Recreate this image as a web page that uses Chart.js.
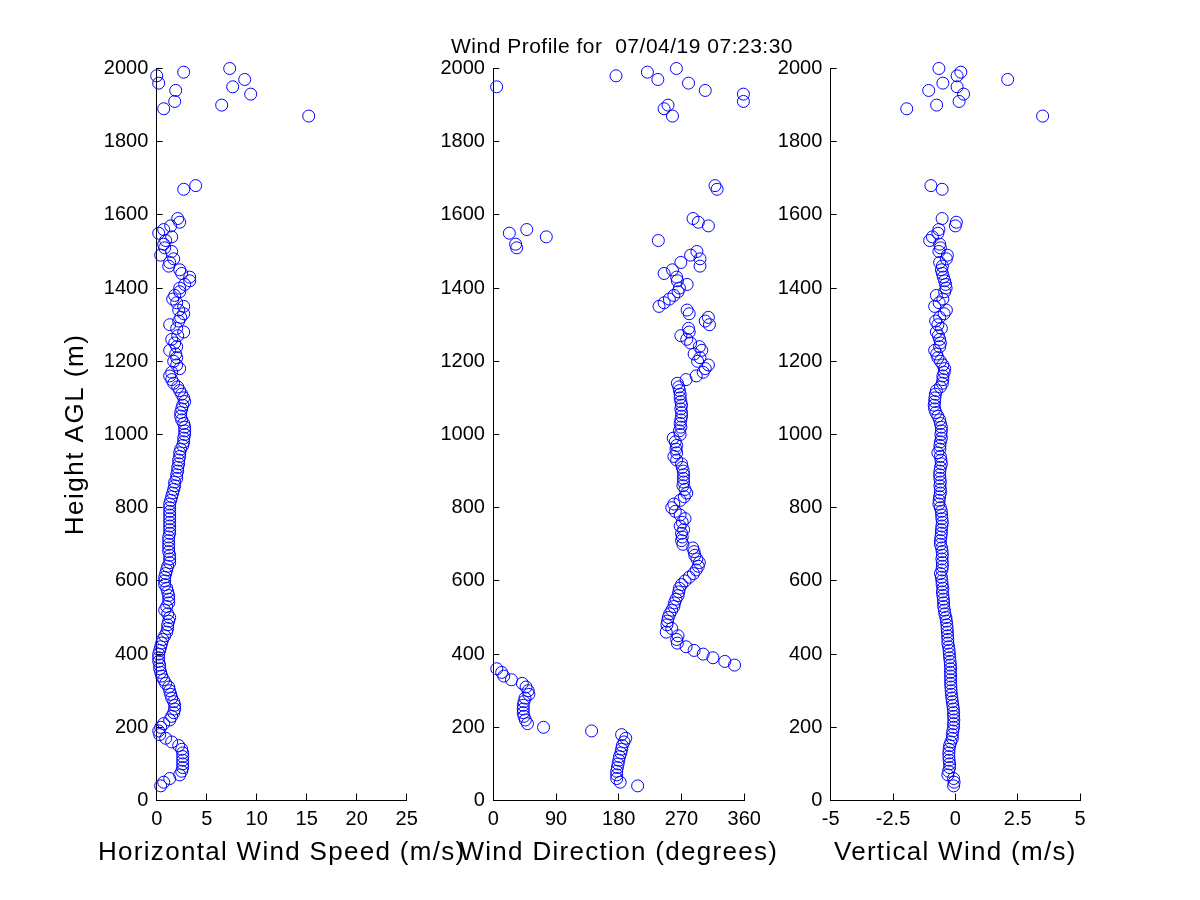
<!DOCTYPE html>
<html>
<head>
<meta charset="utf-8">
<title>Wind Profile</title>
<script src="https://cdn.jsdelivr.net/npm/chart.js@4.4.0/dist/chart.umd.min.js"></script>
<style>
  body { margin: 0; background: #fff; }
  #wrap { position: relative; width: 1200px; height: 900px; }
  #wrap canvas { position: absolute; left: 0; top: 0; }
</style>
</head>
<body>
<div id="wrap">
  <canvas id="speedChart" width="1200" height="900"></canvas>
  <canvas id="dirChart" width="1200" height="900"></canvas>
  <canvas id="vertChart" width="1200" height="900"></canvas>
</div>
<script>
// range gates (m AGL)
const heights = [
  2000, 1990, 1980, 1970, 1960, 1950, 1940, 1930, 1910, 1900, 1890, 1870,
  1680, 1670,
  1590, 1580, 1570, 1560, 1550, 1540, 1530, 1520, 1510, 1500,
  1490, 1480, 1470, 1460, 1450, 1440, 1430, 1420, 1410, 1400,
  1390, 1380, 1370, 1360, 1350, 1340, 1330, 1320, 1310, 1300,
  1290, 1280, 1270, 1260, 1250, 1240, 1230, 1220, 1210, 1200,
  1190, 1180, 1170, 1160, 1150, 1140, 1130, 1120, 1110, 1100,
  1090, 1080, 1070, 1060, 1050, 1040, 1030, 1020, 1010, 1000,
  990, 980, 970, 960, 950, 940, 930, 920, 910, 900,
  890, 880, 870, 860, 850, 840, 830, 820, 810, 800,
  790, 780, 770, 760, 750, 740, 730, 720, 710, 700,
  690, 680, 670, 660, 650, 640, 630, 620, 610, 600,
  590, 580, 570, 560, 550, 540, 530, 520, 510, 500,
  490, 480, 470, 460, 450, 440, 430, 420, 410, 400,
  390, 380, 370, 360, 350, 340, 330, 320, 310, 300,
  290, 280, 270, 260, 250, 240, 230, 220, 210, 200,
  190, 180, 170, 160, 150, 140, 130, 120, 110, 100,
  90, 80, 70, 60, 50, 40
];

// horizontal wind speed (m/s)
const windSpeed = [
  7.3, 2.7, 0.0, 8.8, 0.2, 7.6, 1.9, 9.4, 1.8, 6.5, 0.7, 15.2,
  3.9, 2.7,
  2.1, 2.3, 1.4, 0.7, 0.2, 1.5, 0.9, 0.7, 0.8, 1.5,
  0.4, 1.7, 1.3, 1.2, 2.3, 2.5, 3.3, 3.3, 2.8, 2.3,
  2.3, 1.8, 1.6, 2.0, 2.7, 2.2, 2.7, 2.4, 2.2, 1.3,
  2.0, 2.7, 2.1, 1.5, 1.8, 2.0, 1.3, 1.9, 2.0, 1.7,
  2.0, 2.3, 1.5, 1.3, 1.5, 1.7, 2.1, 2.3, 2.5, 2.7,
  2.8, 2.6, 2.5, 2.4, 2.4, 2.5, 2.7, 2.8, 2.8, 2.8,
  2.7, 2.7, 2.6, 2.4, 2.3, 2.3, 2.2, 2.2, 2.1, 2.1,
  2.0, 2.0, 1.8, 1.8, 1.7, 1.6, 1.5, 1.4, 1.3, 1.3,
  1.3, 1.3, 1.3, 1.3, 1.3, 1.3, 1.3, 1.2, 1.2, 1.2,
  1.2, 1.2, 1.3, 1.3, 1.3, 1.1, 1.0, 0.9, 0.8, 0.8,
  0.8, 1.0, 1.1, 1.2, 1.2, 1.2, 1.0, 0.8, 1.1, 1.3,
  1.2, 1.1, 1.1, 1.0, 0.8, 0.6, 0.5, 0.4, 0.3, 0.2,
  0.2, 0.2, 0.3, 0.3, 0.4, 0.5, 0.7, 0.9, 1.2, 1.3,
  1.4, 1.5, 1.7, 1.8, 1.8, 1.7, 1.5, 1.3, 0.7, 0.4,
  0.2, 0.3, 0.9, 1.5, 2.2, 2.5, 2.6, 2.6, 2.6, 2.6,
  2.6, 2.5, 2.3, 1.3, 0.7, 0.4
];

// wind direction (degrees)
const windDir = [
  262.6, 221, 176, 236, 280, 4.8, 304, 358.7, 358.7, 250.6, 245, 257,
  318, 321,
  286.5, 294, 308.5, 48, 23, 76, 236.7, 32, 33.5, 292,
  283, 296.5, 269, 296.5, 257, 245, 263, 264, 278, 267,
  265, 259, 252.5, 245, 237.7, 278, 281, 308.5, 304, 310,
  280, 281, 269, 277.5, 283, 295.5, 299, 288, 296.5, 293,
  308.5, 304, 301, 291, 276.5, 264, 266, 267, 268, 268,
  269, 270, 269, 270, 270, 269, 268, 269, 267, 268,
  258, 261, 263, 262, 263, 259, 263, 270, 271, 272.6,
  273, 272.6, 273, 272, 275, 277.5, 274, 268, 259, 256,
  261, 268, 275, 271, 268, 273, 270, 271, 270, 272,
  286, 288, 289, 292, 295.5, 294, 291, 287, 281, 275,
  270, 267, 266, 265, 262, 260, 259, 256, 253, 251,
  250, 249, 256, 248, 265, 263, 264, 276.5, 288, 301,
  315, 332, 346, 5, 12, 15, 26, 41.6, 47, 50,
  51, 45.5, 44, 43, 43, 43, 44, 46, 49, 72,
  141, 184, 190, 187.5, 185, 184, 183, 181, 180, 179,
  178, 177, 177, 177, 182, 207
];

// vertical wind (m/s)
const vertWind = [
  -0.66, 0.22, 0.07, 2.1, -0.5, 0.07, -1.07, 0.33, 0.15, -0.75, -1.95, 3.5,
  -0.98, -0.53,
  -0.53, 0.04, 0, -0.66, -0.7, -0.92, -1.03, -0.63, -0.6, -0.66,
  -0.32, -0.36, -0.63, -0.52, -0.56, -0.52, -0.48, -0.43, -0.39, -0.37,
  -0.43, -0.76, -0.5, -0.65, -0.83, -0.36, -0.45, -0.63, -0.79, -0.7,
  -0.56, -0.76, -0.68, -0.63, -0.6, -0.63, -0.83, -0.75, -0.7, -0.6,
  -0.5, -0.43, -0.45, -0.5, -0.5, -0.52, -0.6, -0.76, -0.8, -0.82,
  -0.83, -0.85, -0.83, -0.78, -0.7, -0.63, -0.6, -0.56, -0.56, -0.58,
  -0.56, -0.6, -0.62, -0.62, -0.7, -0.6, -0.58, -0.56, -0.6, -0.62,
  -0.63, -0.62, -0.6, -0.62, -0.6, -0.6, -0.63, -0.65, -0.66, -0.6,
  -0.56, -0.55, -0.54, -0.52, -0.54, -0.56, -0.56, -0.58, -0.6, -0.6,
  -0.55, -0.53, -0.52, -0.54, -0.52, -0.52, -0.54, -0.6, -0.56, -0.54,
  -0.53, -0.5, -0.52, -0.5, -0.48, -0.47, -0.47, -0.44, -0.42, -0.38,
  -0.36, -0.34, -0.33, -0.32, -0.31, -0.3, -0.3, -0.27, -0.25, -0.24,
  -0.23, -0.21, -0.2, -0.19, -0.2, -0.19, -0.19, -0.19, -0.18, -0.17,
  -0.16, -0.14, -0.12, -0.1, -0.08, -0.07, -0.07, -0.06, -0.07, -0.07,
  -0.1, -0.12, -0.12, -0.18, -0.23, -0.25, -0.26, -0.26, -0.25, -0.23,
  -0.23, -0.27, -0.3, -0.07, -0.05, -0.07
];

const heightTicks = { min: 0, max: 2000, step: 200 };
const speedTicks = { min: 0, max: 25, step: 5 };
const dirTicks = { min: 0, max: 360, step: 90 };
const vertTicks = { min: -5, max: 5, step: 2.5 };

const FONT = '"Liberation Sans", Arial, Helvetica, sans-serif';
Chart.defaults.font.family = FONT;
Chart.defaults.font.size = 20;
Chart.defaults.color = "#000";

// axis labels are drawn by hand so they can run wider than the plot box
const profileText = {
  id: "profileText",
  afterDraw(chart, args, opts) {
    const ctx = chart.ctx;
    const area = chart.chartArea;
    ctx.save();
    ctx.fillStyle = "#000";
    ctx.textAlign = "center";
    ctx.textBaseline = "alphabetic";
    if (opts.title) {
      ctx.font = "21px " + FONT;
      ctx.letterSpacing = "0.5px";
      ctx.fillText(opts.title, 622, 53);
    }
    if (opts.xLabel) {
      ctx.font = "26px " + FONT;
      ctx.letterSpacing = "1.3px";
      ctx.fillText(opts.xLabel, (area.left + area.right) / 2, 860);
    }
    if (opts.yLabel) {
      ctx.font = "26px " + FONT;
      ctx.letterSpacing = "1.5px";
      ctx.translate(83, (area.top + area.bottom) / 2);
      ctx.rotate(-Math.PI / 2);
      ctx.fillText(opts.yLabel, 0, 0);
    }
    ctx.restore();
  },
};

function makeProfile(canvasId, values, xt, padLeft, padRight, text) {
  const points = heights.map((h, i) => ({ x: values[i], y: h }));
  return new Chart(document.getElementById(canvasId), {
    type: "scatter",
    data: {
      datasets: [
        {
          data: points,
          borderColor: "#0000ff",
          backgroundColor: "rgba(0,0,0,0)",
          borderWidth: 1,
          pointRadius: 6,
          pointHoverRadius: 6,
          clip: false,
        },
      ],
    },
    plugins: [profileText],
    options: {
      responsive: false,
      animation: false,
      devicePixelRatio: 1,
      events: [],
      layout: { padding: { left: padLeft, right: padRight, top: 68.5, bottom: 0 } },
      plugins: {
        legend: { display: false },
        tooltip: { enabled: false },
        profileText: text,
      },
      scales: {
        x: {
          type: "linear",
          position: "bottom",
          min: xt.min,
          max: xt.max,
          border: { display: true, color: "#000", width: 1 },
          grid: { drawOnChartArea: false, drawTicks: true, tickLength: -7, color: "#000" },
          ticks: {
            stepSize: xt.step,
            padding: 13.5,
            maxRotation: 0,
            autoSkip: false,
            callback: (v) => String(v),
          },
          afterFit: (s) => { s.height = 99.5; },
        },
        y: {
          type: "linear",
          position: "left",
          min: heightTicks.min,
          max: heightTicks.max,
          border: { display: true, color: "#000", width: 1 },
          grid: { drawOnChartArea: false, drawTicks: true, tickLength: -6, color: "#000" },
          ticks: {
            stepSize: heightTicks.step,
            padding: 14.4,
            autoSkip: false,
            callback: (v) => String(v),
          },
          afterFit: (s) => { s.width = 60; },
        },
      },
    },
  });
}

makeProfile("speedChart", windSpeed, speedTicks, 96.7, 793.3, {
  xLabel: "Horizontal Wind Speed (m/s)",
  yLabel: "Height AGL (m)",
});
makeProfile("dirChart", windDir, dirTicks, 433.3, 455.7, {
  xLabel: "Wind Direction (degrees)",
  title: "Wind Profile for  07/04/19 07:23:30",
});
makeProfile("vertChart", vertWind, vertTicks, 770.7, 120, {
  xLabel: "Vertical Wind (m/s)",
});
</script>
</body>
</html>
